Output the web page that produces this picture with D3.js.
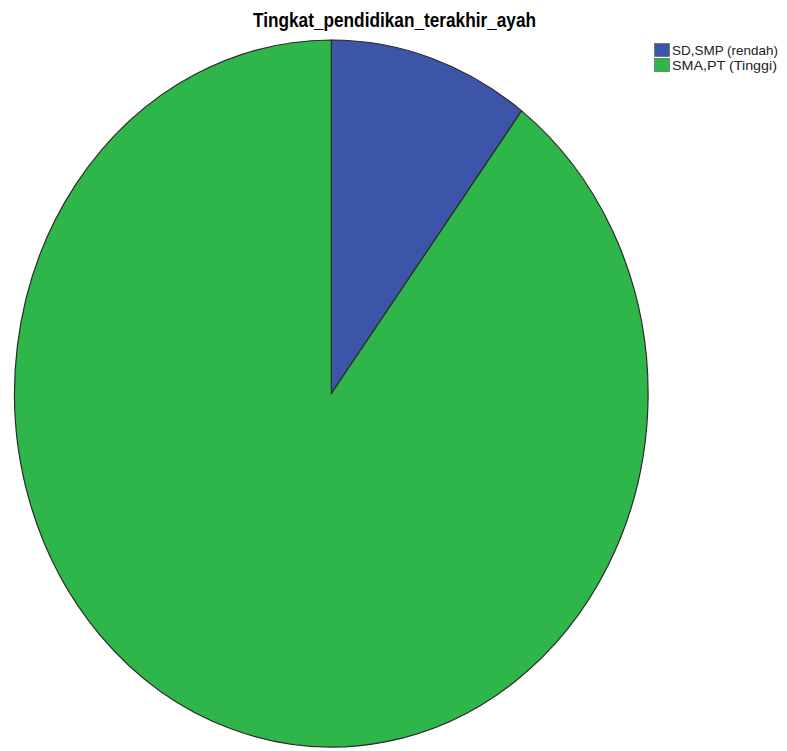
<!DOCTYPE html>
<html><head><meta charset="utf-8">
<script src="https://cdn.jsdelivr.net/npm/d3@7"></script>
<style>body{margin:0;background:#fff}svg{display:block}</style>
</head><body>
<svg id="c" width="787" height="751"></svg>
<script>
const categories = ["SD,SMP (rendah)", "SMA,PT (Tinggi)"];
const values = [4, 35];
const colors = ["#3D55A9", "#2EB64A"];
const title = "Tingkat_pendidikan_terakhir_ayah";

const svg = d3.select("#c");
const cx = 331.3, cy = 393.5, rx = 316.8, ry = 353.5;

const pie = d3.pie().sort(null).value(d => d)(values);
const arc = d3.arc().innerRadius(0).outerRadius(ry);

const g = svg.append("g").attr("transform", `translate(${cx},${cy}) scale(${rx/ry},1)`);
g.selectAll("path").data(pie).join("path")
  .attr("d", arc)
  .attr("fill", (d,i) => colors[i])
  .attr("stroke", "#2a2a2a")
  .attr("stroke-width", 1.2)
  .attr("vector-effect", "non-scaling-stroke");

svg.append("text").attr("x", 394.5).attr("y", 27)
  .attr("text-anchor", "middle")
  .attr("font-family", "Liberation Sans, Arial, sans-serif")
  .attr("font-weight", "bold").attr("font-size", 20)
  .attr("textLength", 283).attr("lengthAdjust", "spacingAndGlyphs")
  .text(title);

const lg = svg.append("g");
categories.forEach((c, i) => {
  const y = 43 + i * 15;
  lg.append("rect").attr("x", 654.5).attr("y", y + 0.5).attr("width", 15).attr("height", 13)
    .attr("fill", colors[i]).attr("stroke", "#555").attr("stroke-width", 0.6);
  lg.append("text").attr("x", 672).attr("y", y + 11.5)
    .attr("font-family", "Liberation Sans, Arial, sans-serif")
    .attr("font-size", 13.5).attr("fill", "#222")
    .attr("textLength", i === 0 ? 106 : 105).attr("lengthAdjust", "spacingAndGlyphs")
    .text(c);
});
</script>
</body></html>
